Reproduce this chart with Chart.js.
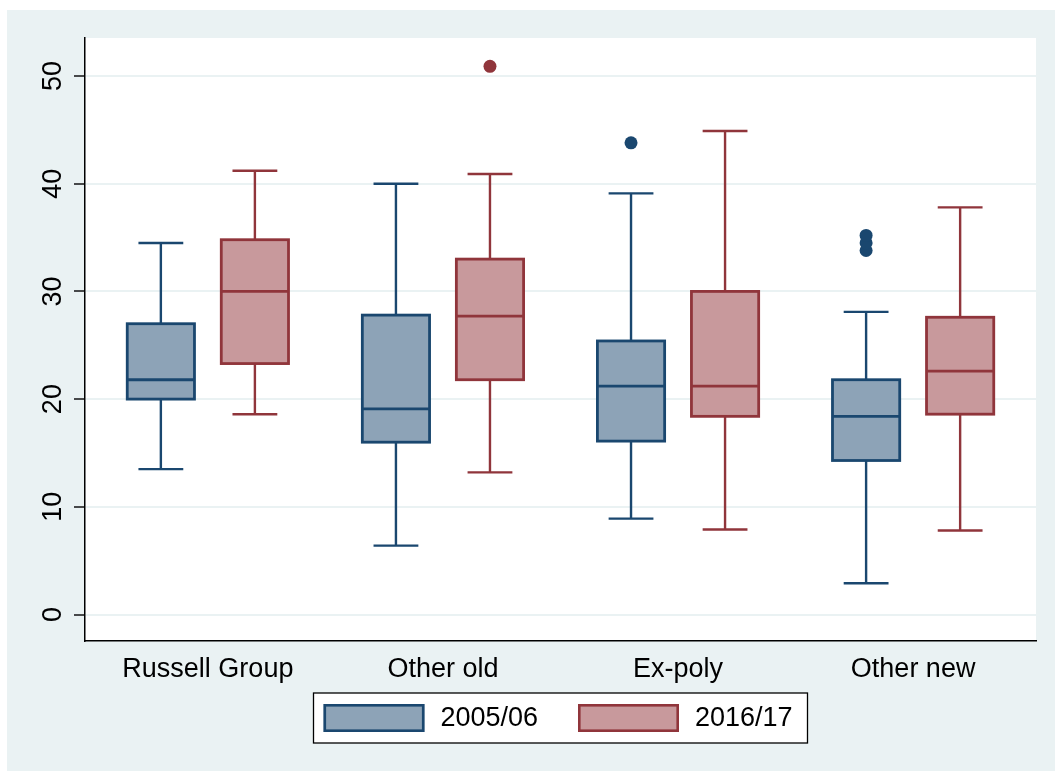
<!DOCTYPE html>
<html>
<head>
<meta charset="utf-8">
<script src="https://cdn.jsdelivr.net/npm/chart.js@4/dist/chart.umd.min.js"></script>
<style>
  html, body { margin: 0; padding: 0; background: #ffffff; }
  canvas { display: block; }
</style>
</head>
<body>
<canvas id="chart" width="1055" height="771"></canvas>
<script>
// Categories and tick values
const categories = ['Russell Group', 'Other old', 'Ex-poly', 'Other new'];
const seriesLabels = ['2005/06', '2016/17'];
const yTickValues = [0, 10, 20, 30, 40, 50];

// 2005/06 box statistics
const lowerWhisker0506 = [13.5, 6.4, 8.9, 2.9];
const lowerQuartile0506 = [20.0, 16.0, 16.1, 14.3];
const median0506 = [21.8, 19.1, 21.2, 18.4];
const upperQuartile0506 = [27.0, 27.8, 25.4, 21.8];
const upperWhisker0506 = [34.5, 40.0, 39.1, 28.1];
const outliers0506 = [[], [], [43.8], [33.8, 34.5, 35.2]];

// 2016/17 box statistics
const lowerWhisker1617 = [18.6, 13.2, 7.9, 7.8];
const lowerQuartile1617 = [23.3, 21.8, 18.4, 18.6];
const median1617 = [30.0, 27.7, 21.2, 22.6];
const upperQuartile1617 = [34.8, 33.0, 30.0, 27.6];
const upperWhisker1617 = [41.2, 40.9, 44.9, 37.8];
const outliers1617 = [[], [50.9], [], []];

const FONT = "'Liberation Sans', Arial, Helvetica, sans-serif";
const BG = '#EAF2F3';
const NAVY = '#1A476F';
const NAVY_FILL = '#8DA3B7';
const MAROON = '#90353B';
const MAROON_FILL = '#C8999C';

const categoryPercentage = 0.8;
const barPercentage = 0.715;
// bars of a group sit a quarter of the group width either side of the category
const seriesShift = [-categoryPercentage / 4, categoryPercentage / 4];

function boxData(lo, hi) {
  return categories.map((c, i) => ({ x: i, y: [lo[i], hi[i]] }));
}
function outlierData(list, s) {
  const pts = [];
  list.forEach((vals, i) => vals.forEach(v => pts.push({ x: i + seriesShift[s], y: v })));
  return pts;
}

const boxSeries = [
  { label: seriesLabels[0], lo: lowerQuartile0506, hi: upperQuartile0506, med: median0506,
    wLo: lowerWhisker0506, wHi: upperWhisker0506, out: outliers0506, line: NAVY, fill: NAVY_FILL },
  { label: seriesLabels[1], lo: lowerQuartile1617, hi: upperQuartile1617, med: median1617,
    wLo: lowerWhisker1617, wHi: upperWhisker1617, out: outliers1617, line: MAROON, fill: MAROON_FILL }
];

const datasets = [];
boxSeries.forEach((s) => {
  datasets.push({
    type: 'bar',
    label: s.label,
    data: boxData(s.lo, s.hi),
    backgroundColor: s.fill,
    borderColor: s.line,
    borderWidth: 0,
    categoryPercentage: categoryPercentage,
    barPercentage: barPercentage,
    medians: s.med,
    whiskerLow: s.wLo,
    whiskerHigh: s.wHi,
    order: 1
  });
});
boxSeries.forEach((s, k) => {
  datasets.push({
    type: 'scatter',
    label: s.label + ' outside values',
    data: outlierData(s.out, k),
    backgroundColor: s.line,
    borderWidth: 0,
    pointRadius: 6.5,
    pointHoverRadius: 6.5,
    order: 0
  });
});

// Page background, graph region and white plot region
const backgroundPlugin = {
  id: 'stataBackground',
  beforeDraw(chart) {
    const { ctx, chartArea: a, width, height } = chart;
    ctx.save();
    ctx.fillStyle = '#ffffff';
    ctx.fillRect(0, 0, width, height);
    ctx.fillStyle = BG;
    ctx.fillRect(7, 10, width - 7, height - 10);
    ctx.fillStyle = '#ffffff';
    ctx.fillRect(a.left, a.top, a.right - a.left, a.bottom - a.top);
    ctx.restore();
  }
};

// Box outlines, medians and whiskers on top of the box fills
const whiskerPlugin = {
  id: 'boxWhiskers',
  afterDatasetsDraw(chart) {
    const { ctx } = chart;
    const yScale = chart.scales.y;
    ctx.save();
    chart.data.datasets.forEach((ds, di) => {
      if (ds.type !== 'bar') return;
      const meta = chart.getDatasetMeta(di);
      ctx.strokeStyle = ds.borderColor;
      ctx.lineCap = 'butt';
      ctx.lineJoin = 'miter';
      meta.data.forEach((el, i) => {
        const x = el.x;
        const half = el.width / 2;
        const cap = half * 2 / 3;
        const yQ1 = yScale.getPixelForValue(ds.data[i].y[0]);
        const yQ3 = yScale.getPixelForValue(ds.data[i].y[1]);
        const yMed = yScale.getPixelForValue(ds.medians[i]);
        const yLo = yScale.getPixelForValue(ds.whiskerLow[i]);
        const yHi = yScale.getPixelForValue(ds.whiskerHigh[i]);
        ctx.lineWidth = 2.4;
        ctx.beginPath();
        ctx.moveTo(x, yQ3); ctx.lineTo(x, yHi);
        ctx.moveTo(x - cap, yHi); ctx.lineTo(x + cap, yHi);
        ctx.moveTo(x, yQ1); ctx.lineTo(x, yLo);
        ctx.moveTo(x - cap, yLo); ctx.lineTo(x + cap, yLo);
        ctx.stroke();
        ctx.lineWidth = 2.8;
        ctx.strokeRect(x - half, yQ3, half * 2, yQ1 - yQ3);
        ctx.beginPath();
        ctx.moveTo(x - half, yMed); ctx.lineTo(x + half, yMed);
        ctx.stroke();
      });
    });
    ctx.restore();
  }
};

// Boxed legend beneath the plot
const legendPlugin = {
  id: 'boxedLegend',
  afterDraw(chart) {
    const { ctx, chartArea: a } = chart;
    const boxW = 494, boxH = 50;
    const left = (a.left + a.right) / 2 - boxW / 2;
    const top = a.bottom + 52;
    ctx.save();
    ctx.fillStyle = '#ffffff';
    ctx.fillRect(left, top, boxW, boxH);
    ctx.strokeStyle = '#000000';
    ctx.lineWidth = 1.3;
    ctx.strokeRect(left, top, boxW, boxH);
    const items = chart.data.datasets.filter(d => d.type === 'bar');
    const itemX = [left + 10, left + 264.5];
    items.forEach((d, i) => {
      const sx = itemX[i], sy = top + 11, sw = 101, sh = 28;
      ctx.fillStyle = d.backgroundColor;
      ctx.fillRect(sx, sy, sw, sh);
      ctx.strokeStyle = d.borderColor;
      ctx.lineWidth = 2.6;
      ctx.strokeRect(sx + 1.3, sy + 1.3, sw - 2.6, sh - 2.6);
      ctx.fillStyle = '#000000';
      ctx.font = '27px ' + FONT;
      ctx.textBaseline = 'middle';
      ctx.textAlign = 'left';
      ctx.fillText(d.label, sx + sw + 16, sy + sh / 2 + 1);
    });
    ctx.restore();
  }
};

new Chart(document.getElementById('chart'), {
  type: 'bar',
  data: { datasets: datasets },
  options: {
    responsive: false,
    animation: false,
    devicePixelRatio: 1,
    layout: { padding: { top: 38, right: 19, left: 0, bottom: 70 } },
    plugins: {
      legend: { display: false },
      tooltip: { enabled: false },
      title: { display: false }
    },
    scales: {
      x: {
        type: 'linear',
        min: -0.5227,
        max: 3.5227,
        offset: false,
        afterFit: s => { s.height = 60; },
        afterBuildTicks: s => { s.ticks = categories.map((c, i) => ({ value: i })); },
        grid: { display: false, drawTicks: false, tickLength: 0, offset: false },
        border: { display: true, color: '#000000', width: 1.5 },
        ticks: {
          callback: v => categories[v],
          padding: 12,
          autoSkip: false,
          maxRotation: 0,
          minRotation: 0,
          color: '#000000',
          font: { size: 27, family: FONT }
        }
      },
      y: {
        type: 'linear',
        min: -2.46,
        max: 53.53,
        afterFit: s => { s.width = 85; },
        afterBuildTicks: s => { s.ticks = yTickValues.map(v => ({ value: v })); },
        grid: { color: BG, lineWidth: 2, drawTicks: true, tickLength: 11, tickColor: '#000000', tickWidth: 1.4 },
        border: { display: true, color: '#000000', width: 1.5 },
        ticks: {
          minRotation: 90,
          maxRotation: 90,
          crossAlign: 'center',
          padding: 5,
          color: '#000000',
          font: { size: 27, family: FONT }
        }
      }
    }
  },
  plugins: [backgroundPlugin, whiskerPlugin, legendPlugin]
});
</script>
</body>
</html>
